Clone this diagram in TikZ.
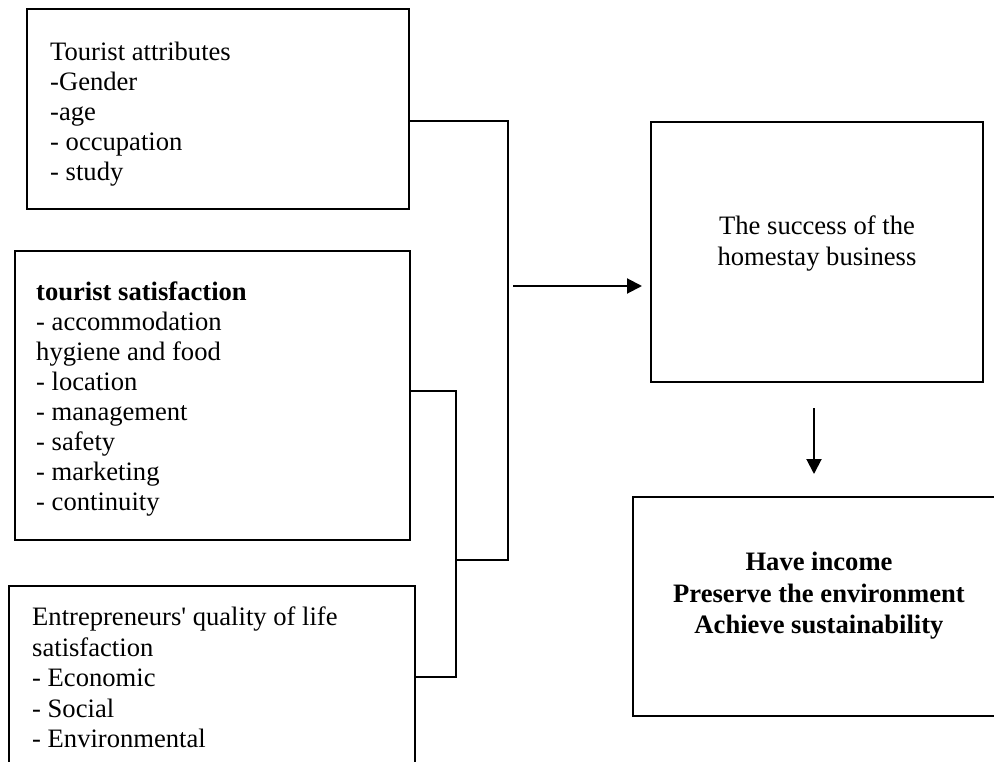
\documentclass[tikz,border=0pt]{standalone}
\usepackage{fontspec}
\setmainfont{Liberation Serif}
\usetikzlibrary{arrows.meta,calc}
\begin{document}
\begin{tikzpicture}[x=1pt,y=-1pt,
  box/.style={draw,line width=2pt,rectangle,inner sep=0pt},
  txt/.style={inner sep=0pt,align=left,anchor=north west,font=\fontsize{26.6pt}{30pt}\selectfont},
  ctxt/.style={inner sep=0pt,align=center,anchor=north},
  conn/.style={line width=2pt},
  arr/.style={line width=2pt,-{Triangle[length=15pt,width=15pt]}}]
\path[use as bounding box,clip] (0,0) rectangle (994,762);
% boxes
\node[box,minimum width=382pt,minimum height=200pt] (b1) at (218,109) {};
\node[box,minimum width=395pt,minimum height=289pt] (b2) at (212.5,395.5) {};
\node[box,minimum width=406pt,minimum height=204pt] (b3) at (212,688) {};
\node[box,minimum width=332pt,minimum height=260pt] (b4) at (817,252) {};
\node[box,minimum width=377pt,minimum height=219pt] (b5) at (821.5,606.5) {};
% texts
\node[txt] (t1) at (50,42) {Tourist attributes\\-Gender\\-age\\- occupation\\- study};
\node[txt] (t2) at (36,282) {\textbf{tourist satisfaction}\\- accommodation\\hygiene and food\\- location\\- management\\- safety\\- marketing\\- continuity};
\node[txt,font=\fontsize{26.6pt}{30.5pt}\selectfont] (t3) at (32,607) {Entrepreneurs\textquotesingle{} quality of life\\satisfaction\\- Economic\\- Social\\- Environmental};
\node[ctxt,font=\fontsize{26.6pt}{31pt}\selectfont] (t4) at (817,216) {The success of the\\homestay business};
\node[ctxt,font=\bfseries\fontsize{26.6pt}{31.5pt}\selectfont] (t5) at (819,552) {Have income\\Preserve the environment\\Achieve sustainability};
% connectors
\coordinate (j1) at (508,560);
\coordinate (j2) at (456,560);
\coordinate (j3) at (456,677);
\coordinate (a0) at (513,286);
\draw[conn] ([yshift=-12pt]b1.east) -| (j1) -- (j2);
\draw[conn] ([yshift=4.5pt]b2.east) -| (j3) -- ([yshift=11pt]b3.east);
\draw[arr,shorten >=8pt] (a0) -- (a0 -| b4.west);
\coordinate (d0) at (814,408);
\draw[arr,shorten >=22pt] (d0) -- (d0 |- b5.north);
\end{tikzpicture}
\end{document}
